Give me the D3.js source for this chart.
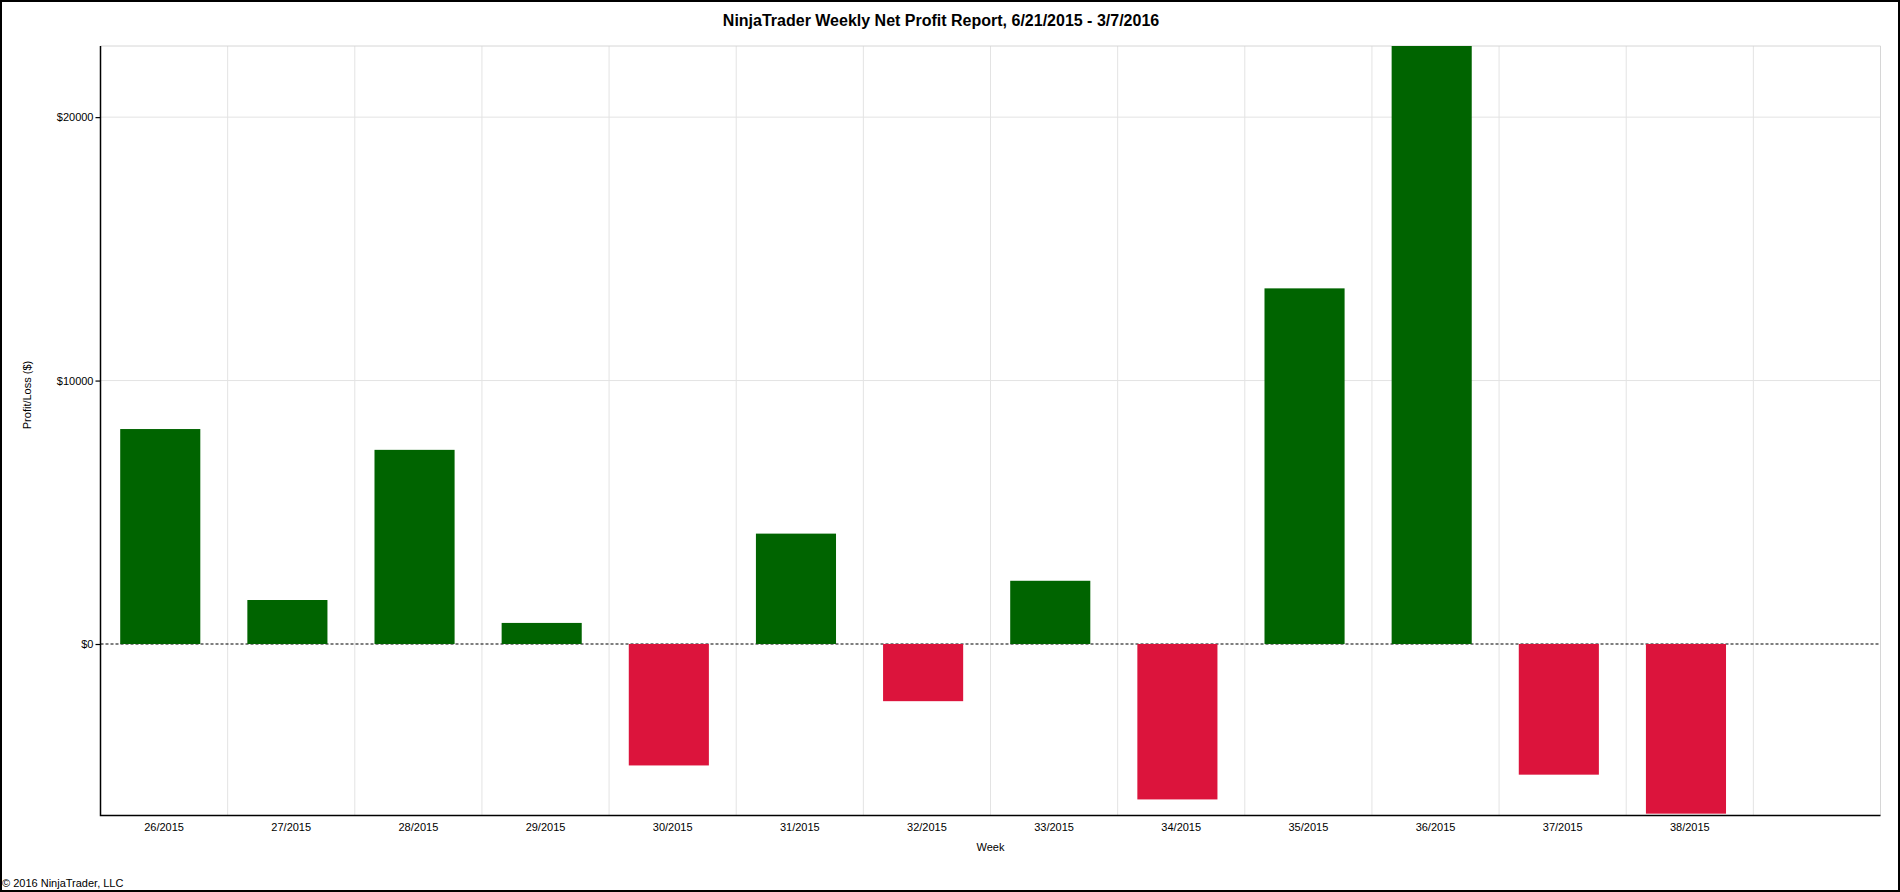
<html>
<head>
<script src="https://d3js.org/d3.v7.min.js"></script>
<style>
  body { margin: 0; background: #fff; }
  svg text { font-family: "Liberation Sans", Arial, sans-serif; fill: #000; }
</style>
</head>
<body>
<svg id="chart" width="1900" height="892"></svg>
<script>
// weekly net profit, one value per week
var weeks = ["26/2015", "27/2015", "28/2015", "29/2015", "30/2015", "31/2015", "32/2015",
             "33/2015", "34/2015", "35/2015", "36/2015", "37/2015", "38/2015"];
var profits = [8160, 1670, 7370, 800, -4610, 4190, -2170, 2400, -5900, 13500, 22700, -4960, -6440];
var yTicks = [0, 10000, 20000];

var data = weeks.map(function(w, i) { return { week: w, value: profits[i] }; });

var svg = d3.select("#chart");
var plotLeft = 100.5, plotTop = 46, plotRight = 1880.5, plotBottom = 815.5;
var W = plotRight - plotLeft, H = plotBottom - plotTop;

// the report leaves one empty slot at the right end
var step = W / (weeks.length + 1);

var x = d3.scaleBand()
  .domain(weeks)
  .range([0, step * weeks.length]);

var y = d3.scaleLinear()
  .domain([-6510, 22700])
  .range([H, 0]);

// outer frame
svg.append("rect")
  .attr("x", 1).attr("y", 1)
  .attr("width", 1898).attr("height", 890)
  .attr("fill", "none").attr("stroke", "#000").attr("stroke-width", 2);

svg.append("text")
  .attr("x", 941).attr("y", 26)
  .attr("text-anchor", "middle")
  .style("font-size", "16px").style("font-weight", "bold")
  .text("NinjaTrader Weekly Net Profit Report, 6/21/2015 - 3/7/2016");

var g = svg.append("g").attr("transform", "translate(" + plotLeft + "," + plotTop + ")");

// grid
g.selectAll("line.vgrid")
  .data(weeks)
  .enter().append("line")
  .attr("class", "vgrid")
  .attr("x1", function(d) { return x(d) + step; })
  .attr("x2", function(d) { return x(d) + step; })
  .attr("y1", 0).attr("y2", H)
  .attr("stroke", "#e3e3e3").attr("stroke-width", 1);

g.selectAll("line.hgrid")
  .data(yTicks.filter(function(t) { return t != 0; }))
  .enter().append("line")
  .attr("class", "hgrid")
  .attr("x1", 0).attr("x2", W)
  .attr("y1", function(d) { return y(d); })
  .attr("y2", function(d) { return y(d); })
  .attr("stroke", "#e3e3e3").attr("stroke-width", 1);

// top and right border of the plot
g.append("path")
  .attr("d", "M0,0H" + W + "V" + H)
  .attr("fill", "none").attr("stroke", "#d6d6d6").attr("stroke-width", 1);

// zero line
g.append("line")
  .attr("x1", 0).attr("x2", W)
  .attr("y1", y(0)).attr("y2", y(0))
  .attr("stroke", "#000").attr("stroke-width", 1.2)
  .attr("stroke-dasharray", "3,2");

// bars
g.selectAll("rect.bar")
  .data(data)
  .enter().append("rect")
  .attr("class", "bar")
  .attr("x", function(d) { return x(d.week) + step * 0.155; })
  .attr("width", step * 0.63)
  .attr("y", function(d) { return y(Math.max(0, d.value)); })
  .attr("height", function(d) { return Math.abs(y(d.value) - y(0)); })
  .attr("fill", function(d) { return d.value >= 0 ? "#006400" : "#DC143C"; });

// axes
var yAxis = g.append("g")
  .call(d3.axisLeft(y).tickValues(yTicks).tickSize(5).tickPadding(2)
    .tickFormat(function(d) { return "$" + d; }));
yAxis.select(".domain").remove();
yAxis.selectAll("line").attr("stroke", "#000").attr("stroke-width", 1.2);
yAxis.selectAll("text").style("font-size", "11px").attr("fill", "#000");

var xAxis = g.append("g")
  .attr("transform", "translate(0," + H + ")")
  .call(d3.axisBottom(x).tickSize(0).tickPadding(8));
xAxis.select(".domain").remove();
xAxis.selectAll("text").style("font-size", "11px").attr("fill", "#000");

// left and bottom axis lines
g.append("path")
  .attr("d", "M0,0V" + H + "H" + W)
  .attr("fill", "none").attr("stroke", "#000").attr("stroke-width", 1.5);

// axis titles
svg.append("text")
  .attr("x", (plotLeft + plotRight) / 2).attr("y", 851)
  .attr("text-anchor", "middle")
  .style("font-size", "11px")
  .text("Week");

svg.append("text")
  .attr("transform", "translate(31,395) rotate(-90)")
  .attr("text-anchor", "middle")
  .style("font-size", "11px")
  .text("Profit/Loss ($)");

svg.append("text")
  .attr("x", 2).attr("y", 887)
  .style("font-size", "11px")
  .text("\u00a9 2016 NinjaTrader, LLC");
</script>
</body>
</html>
